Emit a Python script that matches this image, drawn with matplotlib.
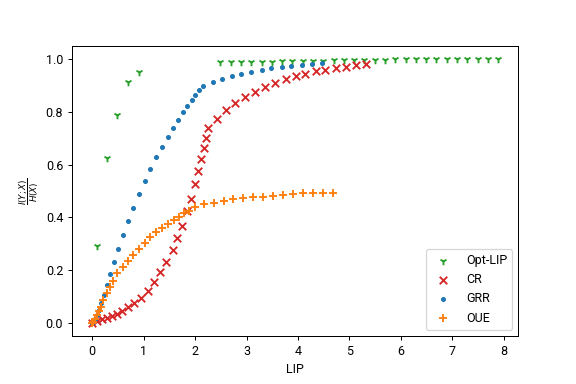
import matplotlib
matplotlib.use("Agg")
import matplotlib.pyplot as plt

plt.rcParams['font.family'] = ['Roboto', 'DejaVu Sans']

# Opt-LIP
opt_x = [0.10, 0.29, 0.49, 0.70, 0.90,
         2.49, 2.69, 2.89, 3.09, 3.29, 3.49, 3.69, 3.89, 4.09, 4.29, 4.49, 4.69, 4.89, 5.09,
         5.29, 5.49, 5.69, 5.89, 6.09, 6.29, 6.49, 6.69, 6.89, 7.09, 7.29, 7.49, 7.69, 7.89]
opt_y = [0.293, 0.627, 0.787, 0.915, 0.953,
         0.988, 0.988, 0.990, 0.990, 0.990, 0.991, 0.992, 0.993, 0.993, 0.994, 0.995, 0.997, 0.998, 0.998,
         0.999, 0.999, 0.999, 1.000, 1.000, 1.000, 1.000, 1.000, 1.000, 1.000, 1.000, 1.000, 1.000, 1.000]

# CR
cr_x = [0.0, 0.09, 0.18, 0.28, 0.38, 0.48, 0.58, 0.69, 0.82, 0.95, 1.08, 1.20, 1.31, 1.44,
        1.56, 1.65, 1.75, 1.85, 1.92, 2.0, 2.06, 2.12, 2.17, 2.21, 2.24, 2.42, 2.595, 2.78,
        2.97, 3.17, 3.36, 3.55, 3.76, 3.96, 4.14, 4.34, 4.53, 4.73, 4.94, 5.13, 5.32]
cr_y = [0.0, 0.008, 0.013, 0.019, 0.026, 0.035, 0.045, 0.059, 0.077, 0.096, 0.122, 0.153,
        0.193, 0.23, 0.276, 0.321, 0.368, 0.425, 0.471, 0.525, 0.575, 0.62, 0.664, 0.703,
        0.741, 0.774, 0.806, 0.833, 0.855, 0.874, 0.893, 0.910, 0.925, 0.935, 0.944, 0.954,
        0.959, 0.965, 0.972, 0.978, 0.982]

# GRR
grr_x = [0.0, 0.02, 0.05, 0.09, 0.136, 0.175, 0.233, 0.292, 0.35, 0.428, 0.506, 0.603, 0.70,
         0.798, 0.914, 1.03, 1.128, 1.245, 1.36, 1.479, 1.576, 1.673, 1.77, 1.85, 1.946, 2.0,
         2.08, 2.16, 2.354, 2.53, 2.72, 2.90, 3.09, 3.29, 3.48, 3.68, 3.87, 4.07, 4.27, 4.46]
grr_y = [0.0, 0.005, 0.015, 0.03, 0.049, 0.074, 0.104, 0.142, 0.184, 0.229, 0.279, 0.332,
         0.385, 0.436, 0.487, 0.538, 0.582, 0.628, 0.666, 0.704, 0.738, 0.768, 0.799, 0.822,
         0.844, 0.863, 0.882, 0.898, 0.912, 0.924, 0.935, 0.943, 0.950, 0.958, 0.965, 0.969,
         0.973, 0.977, 0.981, 0.986]

# OUE
oue_x = [0.0, 0.02, 0.05, 0.097, 0.13, 0.17, 0.214, 0.28, 0.344, 0.41, 0.49, 0.59, 0.70, 0.79,
         0.91, 1.025, 1.123, 1.24, 1.35, 1.465, 1.58, 1.69, 1.79, 1.88, 1.99, 2.18, 2.37,
         2.556, 2.737, 2.93, 3.127, 3.315, 3.516, 3.71, 3.905, 4.1, 4.29, 4.49, 4.68]
oue_y = [0.0, 0.004, 0.013, 0.030, 0.046, 0.061, 0.087, 0.112, 0.135, 0.159, 0.188, 0.213,
         0.236, 0.258, 0.28, 0.304, 0.324, 0.343, 0.359, 0.375, 0.391, 0.403, 0.416, 0.426,
         0.44, 0.449, 0.456, 0.464, 0.468, 0.472, 0.476, 0.478, 0.482, 0.486, 0.487, 0.491,
         0.491, 0.494, 0.494]

fig, ax = plt.subplots(figsize=(6.4, 384 / 90), dpi=90)
fig.subplots_adjust(left=0.125, right=0.9, top=0.88, bottom=0.125)

ax.scatter(opt_x, opt_y, marker='1', color='tab:green', label='Opt-LIP')
ax.scatter(cr_x, cr_y, marker='x', color='tab:red', label='CR')
ax.scatter(grr_x, grr_y, marker='.', color='tab:blue', label='GRR')
ax.scatter(oue_x, oue_y, marker='+', color='tab:orange', label='OUE')

ax.set_xlabel('LIP')
ax.set_ylabel(r'$\frac{I(Y;X)}{H(X)}$')
ax.legend(loc='lower right')

plt.savefig('out.png', dpi=90)
